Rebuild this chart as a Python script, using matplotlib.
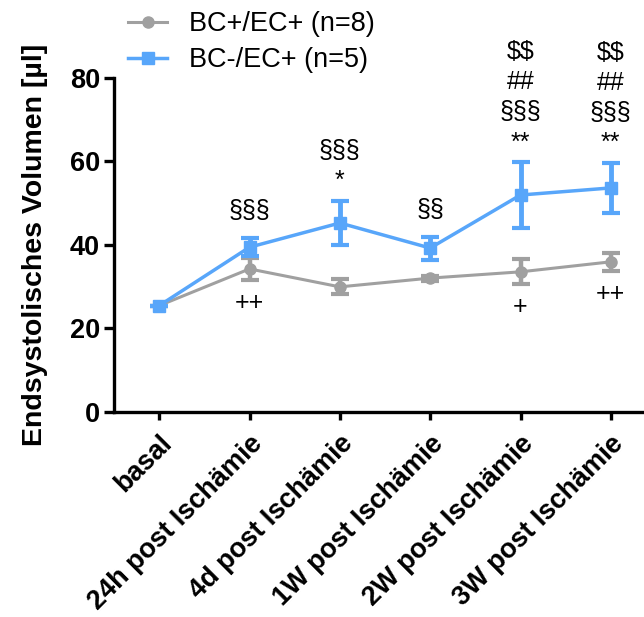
import matplotlib
matplotlib.use('Agg')
import matplotlib.pyplot as plt
import matplotlib.transforms as mtransforms
import numpy as np

plt.rcParams['font.family'] = ['Liberation Sans', 'DejaVu Sans']
plt.rcParams['text.parse_math'] = False

timepoints = ['basal', '24h post Ischämie', '4d post Ischämie',
              '1W post Ischämie', '2W post Ischämie', '3W post Ischämie']

# BC+/EC+ (n=8)
grey_mean = [25.4, 34.2, 29.9, 32.0, 33.5, 35.9]
grey_sem = [0.0, 2.7, 1.8, 0.6, 3.0, 2.1]

# BC-/EC+ (n=5)
blue_mean = [25.4, 39.4, 45.2, 39.2, 51.9, 53.6]
blue_sem = [0.0, 2.15, 5.3, 2.75, 7.8, 5.9]

# significance marks, listed bottom to top
marks_above = [[], ['§§§'], ['*', '§§§'], ['§§'],
               ['**', '§§§', '##', '$$'], ['**', '§§§', '##', '$$']]
marks_below = ['', '++', '', '', '+', '++']

grey = '#a0a0a0'
blue = '#58a6fa'

fig = plt.figure(figsize=(6.44, 6.17), dpi=100)
ax = fig.add_axes([114 / 644, 1 - 411.7 / 617, 542 / 644, 334 / 617])

x = np.arange(len(timepoints))

eb_grey = ax.errorbar(x, grey_mean, yerr=grey_sem, color=grey, marker='o',
                      ms=8, lw=2.2, elinewidth=3.2, capsize=6.5, capthick=3,
                      label='BC+/EC+ (n=8)', zorder=3)
eb_blue = ax.errorbar(x, blue_mean, yerr=blue_sem, color=blue, marker='s',
                      ms=8.5, lw=2.5, elinewidth=3.5, capsize=6.5, capthick=3,
                      label='BC-/EC+ (n=5)', zorder=4)

for i in range(len(timepoints)):
    top = blue_mean[i] + blue_sem[i]
    marks = marks_above[i]
    gap = 20 if marks and marks[0].startswith('*') else 27
    for k, m in enumerate(marks):
        ax.annotate(m, (x[i], top), xytext=(0, gap + 30 * k),
                    textcoords='offset pixels', ha='center', va='center',
                    fontsize=18)
    if marks_below[i]:
        bot = grey_mean[i] - grey_sem[i]
        ax.annotate(marks_below[i], (x[i], bot), xytext=(0, -23),
                    textcoords='offset pixels', ha='center', va='center',
                    fontsize=18)

ax.set_xlim(-0.5, 5.5)
ax.set_ylim(0, 80)
ax.set_yticks([0, 20, 40, 60, 80])
ax.set_xticks(x)
ax.set_xticklabels(timepoints, rotation=45, ha='right', va='top',
                   rotation_mode='anchor', fontweight='bold', fontsize=19.5)
shift = mtransforms.ScaledTranslation(-4 / 100, 0, fig.dpi_scale_trans)
for t in ax.get_xticklabels():
    t.set_transform(t.get_transform() + shift)
for t in ax.get_yticklabels():
    t.set_fontweight('bold')
    t.set_fontsize(19.5)

ax.spines['top'].set_visible(False)
ax.spines['right'].set_visible(False)
ax.spines['left'].set_linewidth(2.4)
ax.spines['bottom'].set_linewidth(2.4)
ax.tick_params(axis='both', width=2.4, direction='out')
ax.tick_params(axis='y', length=7, pad=3)
ax.tick_params(axis='x', length=5.5, pad=8)

ax.set_ylabel('Endsystolisches Volumen [µl]', fontweight='bold', fontsize=20.5,
              labelpad=16)

fig.legend(handles=[eb_grey[0], eb_blue[0]],
           labels=['BC+/EC+ (n=8)', 'BC-/EC+ (n=5)'],
           loc='upper left', bbox_to_anchor=(128 / 644, 1 - 11 / 617),
           frameon=False, fontsize=19.5, handlelength=1.45,
           handletextpad=0.8, labelspacing=0.38, borderpad=0,
           borderaxespad=0)

fig.savefig('out.png', dpi=100)
